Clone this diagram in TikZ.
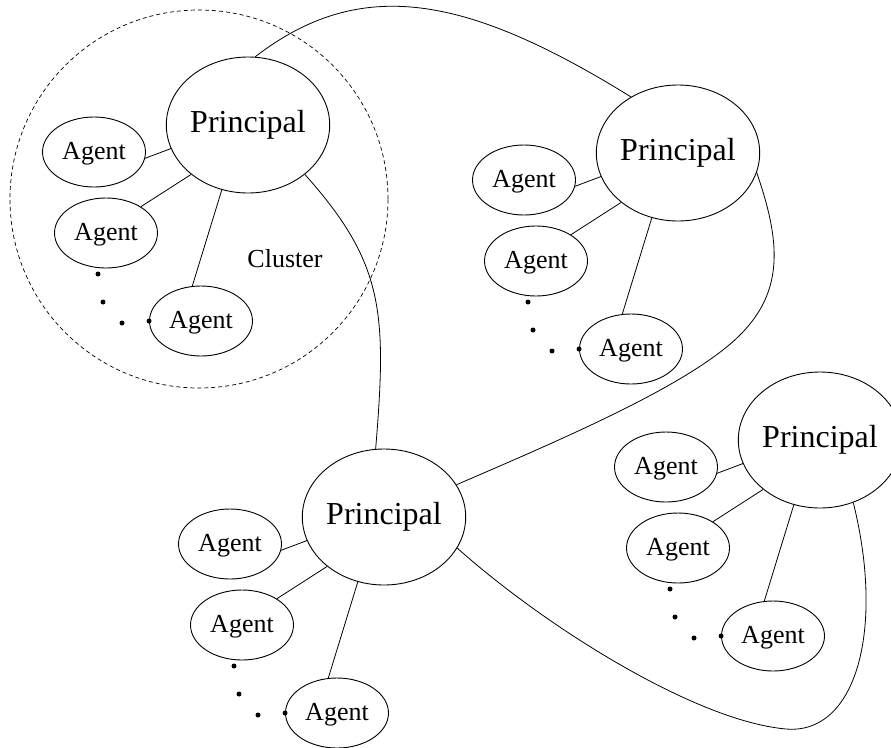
\documentclass[tikz,border=0pt]{standalone}
\usepackage{fontspec}
\setmainfont{Liberation Serif}
\usetikzlibrary{shapes.geometric}
\begin{document}
\begin{tikzpicture}[x=1pt,y=-1pt,line width=0.9pt,
  pnode/.style={ellipse,draw,inner sep=0pt,minimum width=160pt,minimum height=136pt,font=\fontsize{32}{38}\selectfont},
  anode/.style={ellipse,draw,inner sep=0pt,minimum width=103pt,minimum height=70pt,font=\fontsize{26}{31}\selectfont,text height=18pt,text depth=3pt},
  dotmark/.style={circle,fill,inner sep=0pt,minimum size=5pt},
  clusterring/.style={circle,draw,dashed,dash pattern=on 4pt off 3pt,line width=0.7pt,inner sep=0pt,minimum size=378pt},
  link/.style={line width=0.8pt}]
\useasboundingbox (0,0) rectangle (891,747);
% dashed cluster boundary
\node[clusterring] (ring) at (199,199) {};
\node[font=\fontsize{26}{31}\selectfont,anchor=base] (cltext) at (285,267) {Cluster};
% four clusters
\foreach \i/\dx/\dy in {1/0/0, 2/430/28, 3/136/392, 4/572/315} {
  \begin{scope}[shift={(\dx,\dy)}]
    \node[pnode] (p\i) at (248,125) {Principal};
    \node[anode] (a\i1) at (94,152) {Agent};
    \node[anode] (a\i2) at (106,233) {Agent};
    \node[anode] (a\i3) at (201,321) {Agent};
    \node[dotmark] (d\i1) at (98,274) {};
    \node[dotmark] (d\i2) at (103,302) {};
    \node[dotmark] (d\i3) at (122,323) {};
    \node[dotmark] (d\i4) at (a\i3.west) {};
    \draw[link] (p\i.197) -- (a\i1.353);
    \draw[link] (p\i.221) -- (a\i2.37);
    \draw[link] (p\i.248) -- (a\i3.104);
  \end{scope}
}
% links between principals
\draw[link] (p1.84) .. controls (360,-24) and (465,-6) .. (p2.130);
\draw[link] (p1.319) .. controls (384,263) and (387,312) .. (p3.97);
\draw[link] (p2.346) .. controls (780,240) and (785,290) .. (740,335)
  .. controls (690,385) and (560,440) .. (p3.24);
\draw[link] (p3.337) .. controls (547,628) and (696,721) .. (786,729)
  .. controls (856,735) and (885,630) .. (p4.298);
\end{tikzpicture}
\end{document}
